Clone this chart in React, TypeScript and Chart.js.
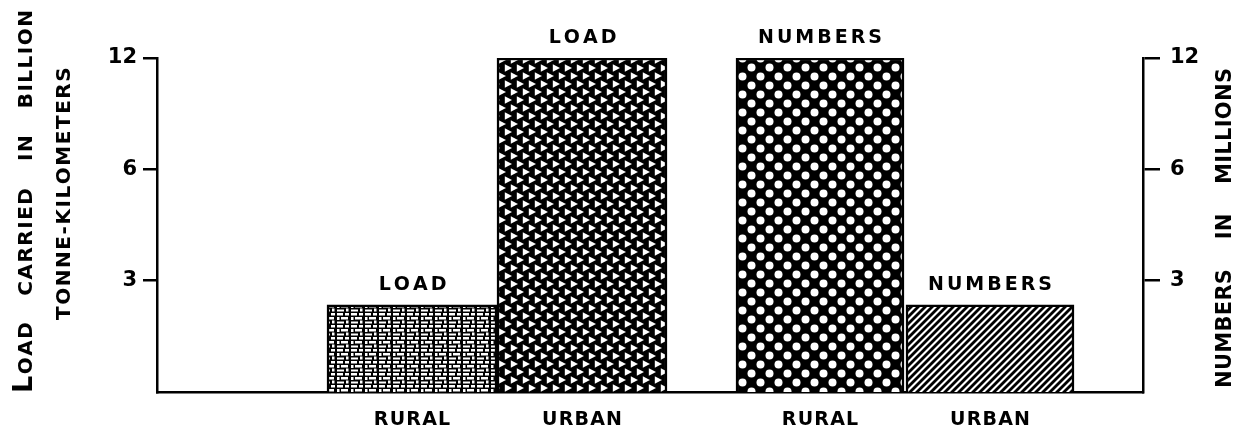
import React, { useEffect, useRef } from 'react';
import { Chart, registerables } from 'chart.js';

Chart.register(...registerables);

// ---- data ----
// category slots along the horizontal axis (blank = spacer)
const xLabels = [
  '', '', '', '', '', '', '', 'RURAL', '', '', '', '', 'URBAN', '', '',
  '', '', '', '', 'RURAL', '', '', '', '', 'URBAN', '', '', '', '',
];
const seriesNames = ['LOAD', 'NUMBERS'];
const loadValues = [2.58, 12]; // billion tonne-km: rural, urban
const numberValues = [12, 2.58]; // millions: rural, urban
const yTicks = [3, 6, 12];
const yMin = 1.5;
const yMax = 12;
const leftTitle = ['LOAD', 'CARRIED', 'IN', 'BILLION'];
const leftTitle2 = 'TONNE-KILOMETERS';
const rightTitle = ['NUMBERS', 'IN', 'MILLIONS'];

const FONT = 'DejaVu Sans';

function makePattern(w: number, h: number, draw: (g: CanvasRenderingContext2D) => void) {
  const c = document.createElement('canvas');
  c.width = w;
  c.height = h;
  const g = c.getContext('2d') as CanvasRenderingContext2D;
  draw(g);
  return g.createPattern(c, 'repeat') as CanvasPattern;
}

function buildPatterns() {
  const weave = makePattern(14, 12, (g) => {
    g.fillStyle = '#000';
    g.fillRect(0, 0, 14, 12);
    g.fillStyle = '#fff';
    g.fillRect(1, 1, 6, 2.5);
    g.fillRect(9, 1, 4, 2.5);
    g.fillRect(1, 5, 2.5, 3);
    g.fillRect(5, 5, 7, 2.5);
    g.fillRect(1, 9.5, 7, 2);
    g.fillRect(10, 8.5, 2.5, 3);
  });
  const triangles = makePattern(12, 16, (g) => {
    g.fillStyle = '#000';
    g.fillRect(0, 0, 12, 16);
    g.fillStyle = '#fff';
    const tri = (cx: number, cy: number) => {
      for (const dx of [-12, 0, 12]) {
        for (const dy of [-16, 0, 16]) {
          g.beginPath();
          g.moveTo(cx + dx - 3.2, cy + dy - 3.8);
          g.lineTo(cx + dx + 4, cy + dy);
          g.lineTo(cx + dx - 3.2, cy + dy + 3.8);
          g.closePath();
          g.fill();
        }
      }
    };
    tri(4, 4);
    tri(10, 12);
  });
  const dots = makePattern(18, 18, (g) => {
    g.fillStyle = '#000';
    g.fillRect(0, 0, 18, 18);
    g.fillStyle = '#fff';
    for (const [cx, cy] of [[4.5, 4.5], [13.5, 13.5]]) {
      g.beginPath();
      g.arc(cx, cy, 4, 0, Math.PI * 2);
      g.fill();
    }
  });
  const stripes = makePattern(7, 7, (g) => {
    g.fillStyle = '#fff';
    g.fillRect(0, 0, 7, 7);
    g.strokeStyle = '#000';
    g.lineWidth = 2.8;
    for (const c of [0, 7, 14]) {
      g.beginPath();
      g.moveTo(-1, c + 1);
      g.lineTo(c + 1, -1);
      g.stroke();
    }
  });
  return { weave, triangles, dots, stripes };
}

function spacedWidth(ctx: CanvasRenderingContext2D, text: string, spacing: number) {
  ctx.letterSpacing = '0px';
  return ctx.measureText(text).width + spacing * (text.length - 1);
}

function drawSpaced(ctx: CanvasRenderingContext2D, text: string, x: number, y: number, spacing: number) {
  let cx = x;
  ctx.letterSpacing = '0px';
  for (const ch of text) {
    ctx.fillText(ch, cx, y);
    cx += ctx.measureText(ch).width + spacing;
  }
  return cx - spacing;
}

const textPlugin = {
  id: 'textPlugin',
  afterDraw(chart: any) {
    const ctx: CanvasRenderingContext2D = chart.ctx;
    const xs = chart.scales.x;
    ctx.save();
    ctx.fillStyle = '#000';
    ctx.textAlign = 'left';
    ctx.textBaseline = 'middle';

    // category labels under bars
    ctx.font = `bold 19px "${FONT}"`;
    xs.ticks.forEach((t: any, i: number) => {
      const label = xs.getLabelForValue(t.value);
      if (!label) return;
      const w = spacedWidth(ctx, label, 1.2);
      drawSpaced(ctx, label, xs.getPixelForTick(i) - w / 2, 420, 1.2);
    });

    // series labels above bars
    ctx.font = `bold 19px "${FONT}"`;
    chart.data.datasets.forEach((ds: any, di: number) => {
      const meta = chart.getDatasetMeta(di);
      meta.data.forEach((el: any, i: number) => {
        if (ds.data[i] == null) return;
        const w = spacedWidth(ctx, ds.label, 3);
        drawSpaced(ctx, ds.label, el.x - w / 2, el.y - 20, 3);
      });
    });

    ctx.textBaseline = 'alphabetic';
    // left title, line 1 (rotated)
    ctx.save();
    ctx.translate(32, 393);
    ctx.rotate(-Math.PI / 2);
    const sp1 = 1.5;
    const bigL = `bold 27px "${FONT}"`;
    const norm1 = `bold 20px "${FONT}"`;
    const widths1 = leftTitle.map((w, wi) => {
      if (wi === 0) {
        ctx.font = bigL;
        const a = spacedWidth(ctx, w[0], 0);
        ctx.font = norm1;
        return a + sp1 + spacedWidth(ctx, w.slice(1), sp1);
      }
      ctx.font = norm1;
      return spacedWidth(ctx, w, sp1);
    });
    const total1 = 383;
    const gap1 = (total1 - widths1.reduce((a, b) => a + b, 0)) / (leftTitle.length - 1);
    let px = 0;
    leftTitle.forEach((w, wi) => {
      if (wi === 0) {
        ctx.font = bigL;
        const e = drawSpaced(ctx, w[0], px, 0, 0);
        ctx.font = norm1;
        drawSpaced(ctx, w.slice(1), e + sp1, 0, sp1);
      } else {
        ctx.font = norm1;
        drawSpaced(ctx, w, px, 0, sp1);
      }
      px += widths1[wi] + gap1;
    });
    ctx.restore();

    // left title, line 2
    ctx.save();
    ctx.translate(70, 320);
    ctx.rotate(-Math.PI / 2);
    ctx.font = `bold 20px "${FONT}"`;
    ctx.letterSpacing = '0px';
    const nat2 = ctx.measureText(leftTitle2).width;
    const sp2 = (252 - nat2) / (leftTitle2.length - 1);
    drawSpaced(ctx, leftTitle2, 0, 0, sp2);
    ctx.restore();

    // right title
    ctx.save();
    ctx.translate(1231, 388);
    ctx.rotate(-Math.PI / 2);
    ctx.font = `bold 21px "${FONT}"`;
    const sp3 = 0.3;
    const widths3 = rightTitle.map((w) => spacedWidth(ctx, w, sp3));
    const gap3 = (320 - widths3.reduce((a, b) => a + b, 0)) / (rightTitle.length - 1);
    let rx = 0;
    rightTitle.forEach((w, wi) => {
      drawSpaced(ctx, w, rx, 0, sp3);
      rx += widths3[wi] + gap3;
    });
    ctx.restore();

    ctx.restore();
  },
};

export default function App() {
  const ref = useRef<HTMLCanvasElement>(null);

  useEffect(() => {
    if (!ref.current) return;
    const p = buildPatterns();
    const slots = xLabels.map((l, i) => (l ? i : -1)).filter((i) => i >= 0);
    const loadSlots = slots.slice(0, loadValues.length);
    const numSlots = slots.slice(loadValues.length, loadValues.length + numberValues.length);
    const loadData = xLabels.map((_, i) => {
      const k = loadSlots.indexOf(i);
      return k >= 0 ? loadValues[k] : null;
    });
    const numData = xLabels.map((_, i) => {
      const k = numSlots.indexOf(i);
      return k >= 0 ? numberValues[k] : null;
    });
    const loadFills = [p.weave, p.triangles];
    const numFills = [p.dots, p.stripes];

    Chart.defaults.font.family = FONT;
    const tickFont = { family: FONT, size: 21, weight: 'bold' };

    const chart = new Chart(ref.current, {
      type: 'bar',
      data: {
        labels: xLabels,
        datasets: [
          {
            label: seriesNames[0],
            data: loadData,
            yAxisID: 'y',
            backgroundColor: (c: any) => loadFills[Math.max(0, loadSlots.indexOf(c.dataIndex))],
            borderColor: '#000',
            borderWidth: 2.5,
            barThickness: 170,
            grouped: false,
          } as any,
          {
            label: seriesNames[1],
            data: numData,
            yAxisID: 'y2',
            backgroundColor: (c: any) => numFills[Math.max(0, numSlots.indexOf(c.dataIndex))],
            borderColor: '#000',
            borderWidth: 2.5,
            barThickness: 168,
            grouped: false,
          } as any,
        ],
      },
      options: {
        animation: false,
        responsive: false,
        maintainAspectRatio: false,
        layout: { padding: { top: 58, left: 0, right: 0, bottom: 0 } },
        plugins: { legend: { display: false }, tooltip: { enabled: false } },
        scales: {
          x: {
            type: 'category',
            offset: true,
            grid: { display: false },
            border: { display: true, color: '#000', width: 2.5 },
            ticks: { display: false, autoSkip: false },
            afterFit: (s: any) => {
              s.height = 49;
            },
          },
          y: {
            type: 'logarithmic',
            position: 'left',
            min: yMin,
            max: yMax,
            afterBuildTicks: (s: any) => {
              s.ticks = yTicks.map((v) => ({ value: v }));
            },
            ticks: { callback: (v: any) => String(v), color: '#000', font: tickFont, padding: 6 },
            grid: { drawOnChartArea: false, tickLength: 14, lineWidth: 2.5, color: '#000' },
            border: { display: true, color: '#000', width: 2.5 },
            afterFit: (s: any) => {
              s.width = 157;
            },
          },
          y2: {
            type: 'logarithmic',
            position: 'right',
            min: yMin,
            max: yMax,
            afterBuildTicks: (s: any) => {
              s.ticks = yTicks.map((v) => ({ value: v }));
            },
            ticks: { callback: (v: any) => String(v), color: '#000', font: tickFont, padding: 10 },
            grid: { drawOnChartArea: false, tickLength: 17, lineWidth: 2.5, color: '#000' },
            border: { display: true, color: '#000', width: 2.5 },
            afterFit: (s: any) => {
              s.width = 96;
            },
          },
        },
      } as any,
      plugins: [textPlugin],
    });
    return () => chart.destroy();
  }, []);

  return (
    <div style={{ position: 'absolute', left: 0, top: 0, width: 1239, height: 441, background: '#fff' }}>
      <canvas ref={ref} width={1239} height={441} style={{ display: 'block' }} />
    </div>
  );
}
